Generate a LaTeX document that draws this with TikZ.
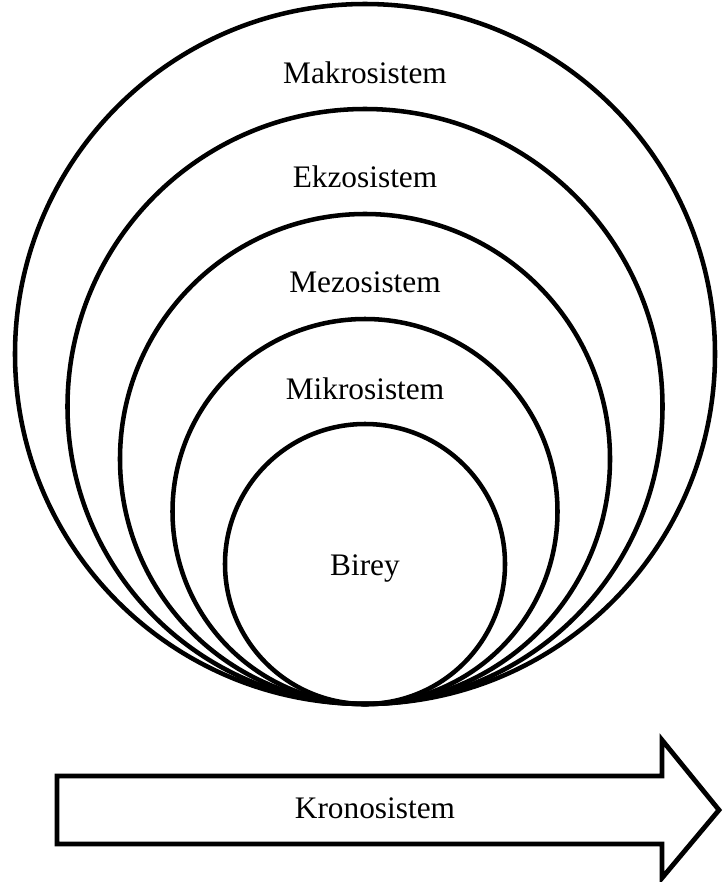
\documentclass[tikz,border=0pt]{standalone}
\usepackage{fontspec}
\setmainfont{Liberation Serif}
\usepackage{tikz}
\usepackage{xcolor}

\begin{document}
\begin{tikzpicture}[x=0.75pt, y=-0.75pt, every node/.style={font=\fontsize{23.5}{28}\selectfont}]
			% Styles
			\tikzstyle{layer_circ} = [circle, draw=black, line width=3.4pt, inner sep=0pt, fill=none]
			\tikzstyle{layer_txt} = [anchor=base, inner sep=0pt]
			\tikzstyle{time_arrow} = [draw=black, line width=3.6pt, fill=white, line join=miter]

			\useasboundingbox (0,0) rectangle (722,882);

			% Common bottom point and centre column
			\def\midx{365}
			\def\bottomy{704}

			% Nested circles (all touching at the bottom)
			\node[layer_circ, minimum size=525pt] (makro) at (\midx, \bottomy-350) {};
			\node[layer_circ, minimum size=446.25pt] (ekzo) at (\midx, \bottomy-297.5) {};
			\node[layer_circ, minimum size=367.5pt] (mezo) at (\midx, \bottomy-245) {};
			\node[layer_circ, minimum size=288.75pt] (mikro) at (\midx, \bottomy-192.5) {};
			\node[layer_circ, minimum size=210pt] (birey) at (\midx, \bottomy-140) {};

			% Layer names
			\node[layer_txt] (makro_lbl) at (\midx, 83) {Makrosistem};
			\node[layer_txt] (ekzo_lbl) at (\midx, 187) {Ekzosistem};
			\node[layer_txt] (mezo_lbl) at (\midx, 292) {Mezosistem};
			\node[layer_txt] (mikro_lbl) at (\midx, 399) {Mikrosistem};
			\node[layer_txt] (birey_lbl) at (\midx, 575) {Birey};

			% Time arrow
			\draw[time_arrow] (57,776) -- (662,776) -- (662,740) -- (719,810) -- (662,878) -- (662,844) -- (57,844) -- cycle;
			\node[layer_txt] (krono_lbl) at (375, 818) {Kronosistem};

		\end{tikzpicture}
\end{document}
